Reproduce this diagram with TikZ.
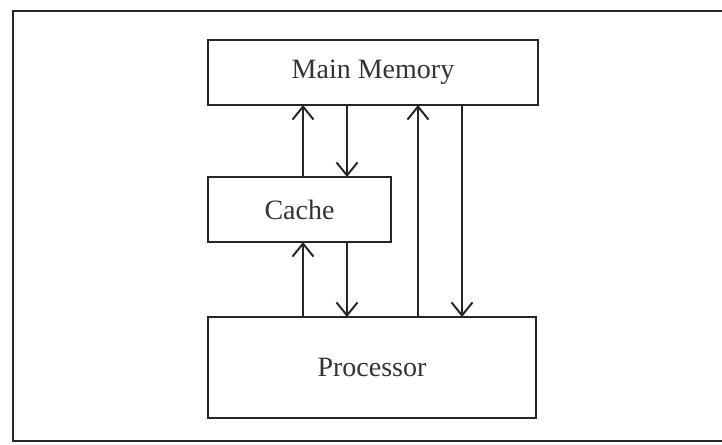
\documentclass[tikz,border=0pt]{standalone}
\usepackage{fontspec}
\setmainfont{Liberation Serif}
\usetikzlibrary{positioning,arrows.meta}
\begin{document}
\begin{tikzpicture}[
    x=1pt, y=-1pt,
    box/.style={rectangle, draw=black!85, line width=1.5pt, inner sep=0pt, outer sep=0pt, font=\fontsize{28}{32}\selectfont, text=black!80},
    arrow/.style={-{Straight Barb[length=13pt, width=21pt, line width=2pt]}, line width=1.5pt, black!85},
    heavy/.style={line width=2.6pt}
]
    \useasboundingbox (0,0) rectangle (722,444);
    \draw[black!85, line width=1.8pt] (740,11) -| (13,441) -- (740,441);

    \node[box, minimum width=330pt, minimum height=65pt] (mem) at (373,72.5) {Main Memory};
    \node[box, minimum width=183pt, minimum height=65pt, below right=72pt and 0pt of mem.south west] (cache) {Cache};
    \node[box, minimum width=328pt, minimum height=101pt, below right=75pt and 0pt of cache.south west] (proc) {Processor};

    \draw[arrow] ([xshift=95pt]cache.north west) -- ([xshift=95pt]cache.north west |- mem.south);
    \draw[arrow] ([xshift=139pt]cache.north west |- mem.south) -- ([xshift=139pt]cache.north west);
    \draw[arrow, heavy] ([xshift=95pt]proc.north west) -- ([xshift=95pt]proc.north west |- cache.south);
    \draw[arrow] ([xshift=139pt]cache.south west) -- ([xshift=139pt]cache.south west |- proc.north);
    \draw[arrow, heavy] ([xshift=210pt]proc.north west) -- ([xshift=210pt]proc.north west |- mem.south);
    \draw[arrow] ([xshift=254pt]proc.north west |- mem.south) -- ([xshift=254pt]proc.north west);
\end{tikzpicture}
\end{document}
